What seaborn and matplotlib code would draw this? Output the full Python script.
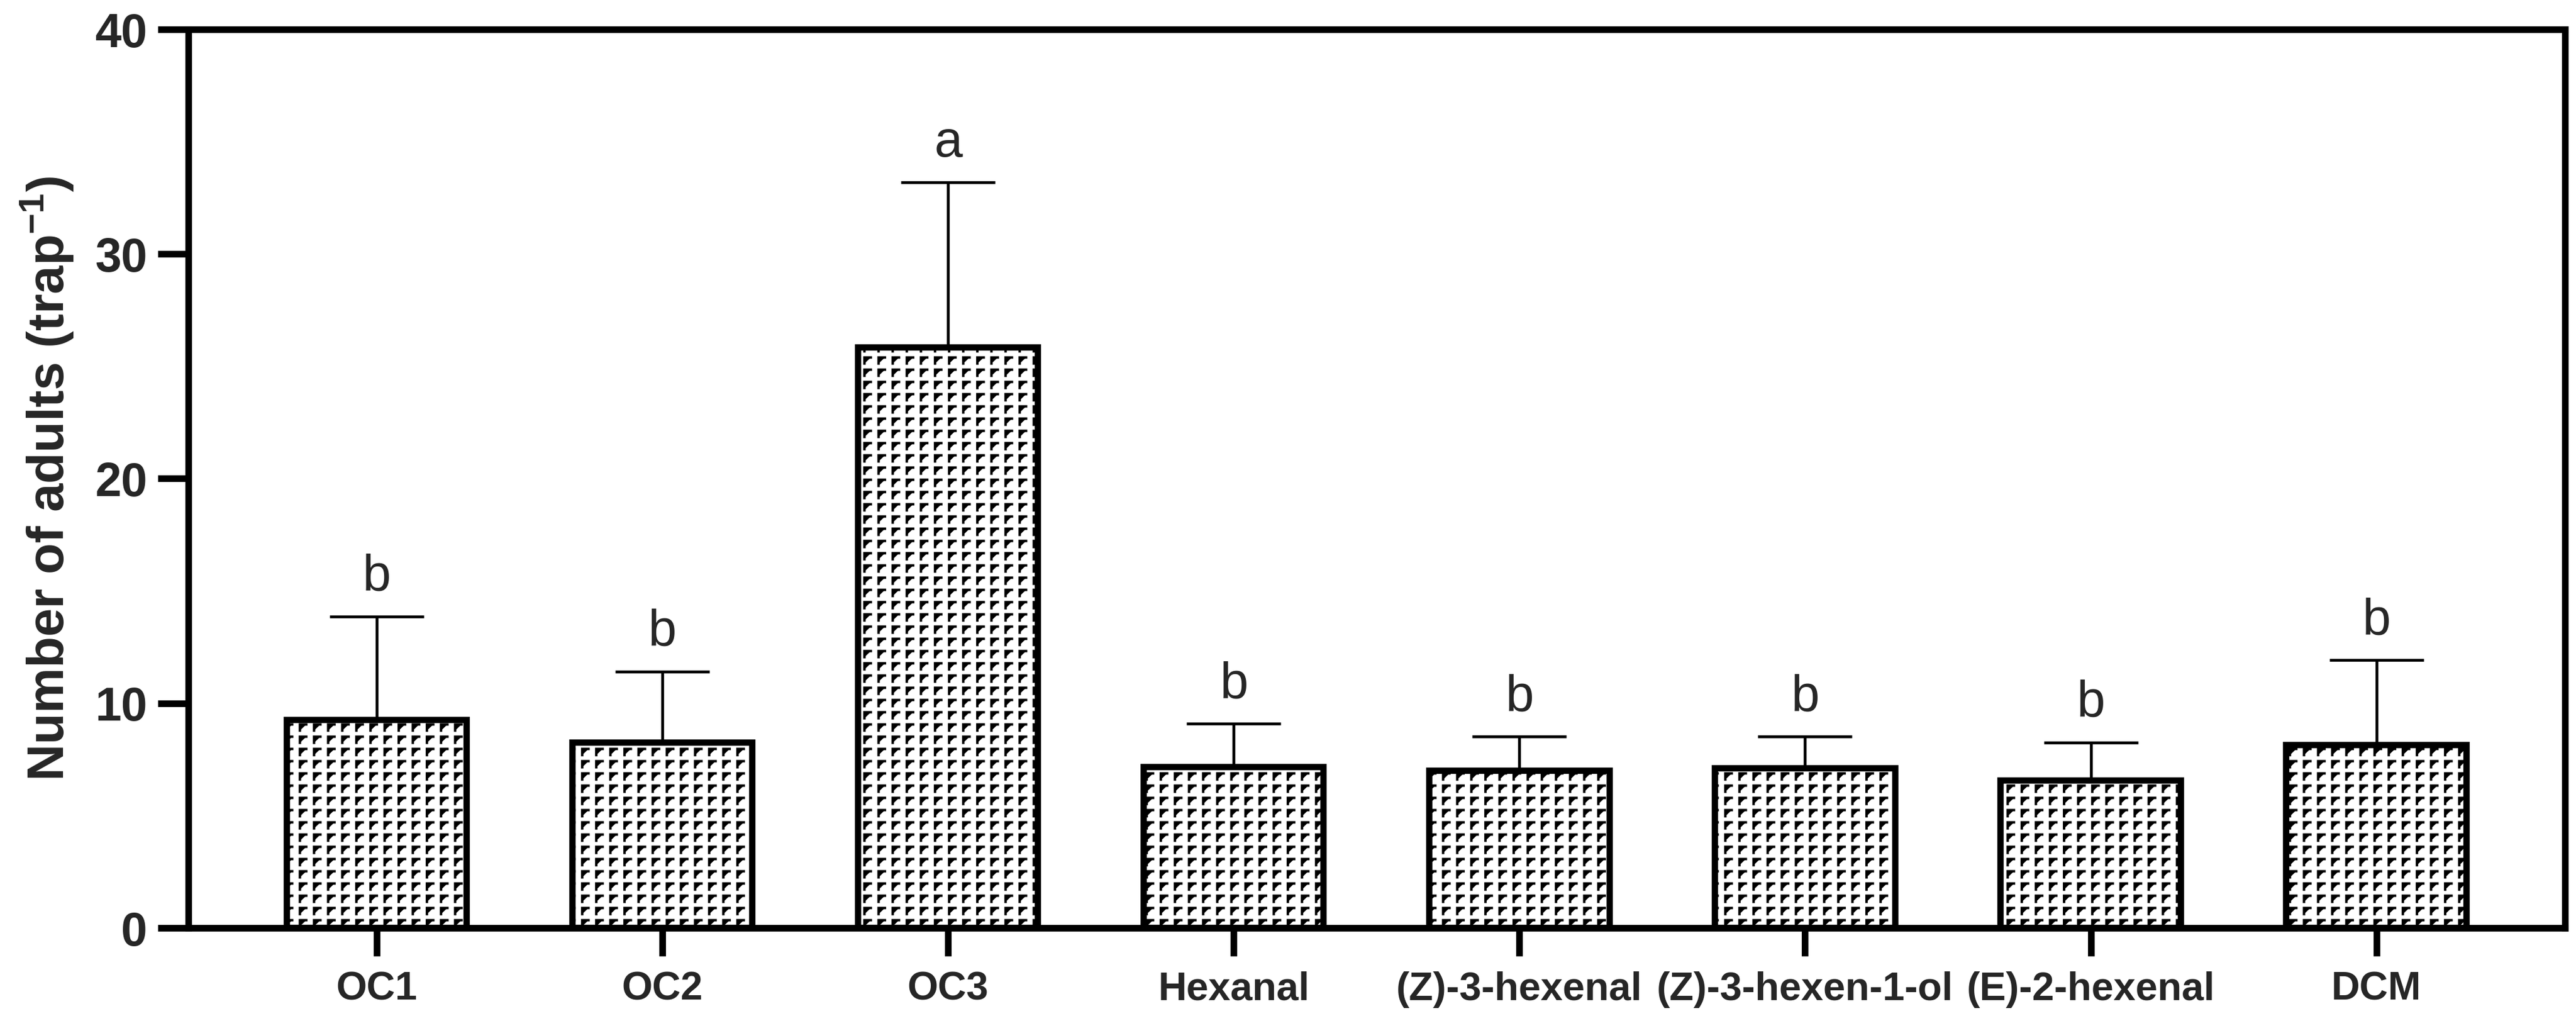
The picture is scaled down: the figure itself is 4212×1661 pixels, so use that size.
import numpy as np
import matplotlib
matplotlib.use("Agg")
import matplotlib.pyplot as plt
import matplotlib.hatch as mhatch
from matplotlib.path import Path
import seaborn as sb

# bar heights (mean) and upper error (SE)
categories = ['OC1', 'OC2', 'OC3', 'Hexanal', '(Z)-3-hexenal',
              '(Z)-3-hexen-1-ol', '(E)-2-hexenal', 'DCM']
means = [9.25, 8.25, 25.85, 7.15, 7.0, 7.1, 6.55, 8.15]
se = [4.62, 3.17, 7.35, 1.95, 1.51, 1.41, 1.71, 3.78]
letters = ['b', 'b', 'a', 'b', 'b', 'b', 'b', 'b']
yticks = [0, 10, 20, 30, 40]


# Prism-like fill: small staggered corner marks, used in place of the '*' hatch
class CornerHatch(mhatch.HatchPatternBase):
    def __init__(self, hatch, density):
        on = '*' in hatch
        self.nx = 13 if on else 0
        self.ny = 15 if on else 0
        self.num_vertices = self.nx * self.ny * 3

    def set_vertices_and_codes(self, vertices, codes):
        k = 0
        for i in range(self.nx):
            for j in range(self.ny):
                x0 = (i + 0.25) / self.nx
                y0 = (j + 0.78) / self.ny
                vertices[k] = (x0 + 0.45 / self.nx, y0)
                vertices[k + 1] = (x0, y0)
                vertices[k + 2] = (x0, y0 - 0.5 / self.ny)
                codes[k] = Path.MOVETO
                codes[k + 1] = Path.LINETO
                codes[k + 2] = Path.LINETO
                k += 3


if hasattr(mhatch, '_hatch_types') and mhatch.Stars in mhatch._hatch_types:
    mhatch._hatch_types[mhatch._hatch_types.index(mhatch.Stars)] = CornerHatch
    fill_hatch = '*'
else:
    fill_hatch = '++'

sb.set_style('ticks')
plt.rcParams['font.family'] = ['Liberation Sans', 'DejaVu Sans']
plt.rcParams['mathtext.fontset'] = 'custom'
plt.rcParams['mathtext.rm'] = 'Liberation Sans:bold'
plt.rcParams['mathtext.bf'] = 'Liberation Sans:bold'
plt.rcParams['hatch.linewidth'] = 0.95
plt.rcParams['hatch.color'] = 'black'

fig = plt.figure(figsize=(14.04, 5.537), dpi=300)
ax = fig.add_axes([0.0731, 0.0867, 0.9226, 0.8844])

sb.barplot(x=categories, y=means, color='white', saturation=1,
           edgecolor='black', linewidth=2.5, width=0.63,
           errorbar=None, hatch=fill_hatch, ax=ax)

x = np.arange(len(categories))
ax.errorbar(x, means, yerr=[np.zeros(len(x)), se], fmt='none',
            ecolor='black', elinewidth=1.1, capsize=18.5, capthick=1.1,
            zorder=0.5)

for i, lab in enumerate(letters):
    ax.annotate(lab, xy=(i, means[i] + se[i]), xytext=(0, 10),
                textcoords='offset points', ha='center', va='baseline',
                fontsize=20)

ax.set_xlim(-0.66, 7.66)
ax.set_ylim(0, 40)
ax.set_yticks(yticks)
ax.set_ylabel(r'Number of adults (trap$^{\mathbf{-1}}$)', fontsize=20,
              fontweight='bold', labelpad=7.5)

for s in ax.spines.values():
    s.set_visible(True)
    s.set_linewidth(2.6)
    s.set_color('black')

ax.tick_params(axis='both', direction='out', width=2.6, color='black')
ax.tick_params(axis='x', length=11, pad=6)
ax.tick_params(axis='y', length=12, pad=4)
for t in ax.get_xticklabels():
    t.set_fontweight('bold')
    t.set_fontsize(15.5)
for t in ax.get_yticklabels():
    t.set_fontweight('bold')
    t.set_fontsize(18.5)

fig.savefig('out.png', dpi=300)
